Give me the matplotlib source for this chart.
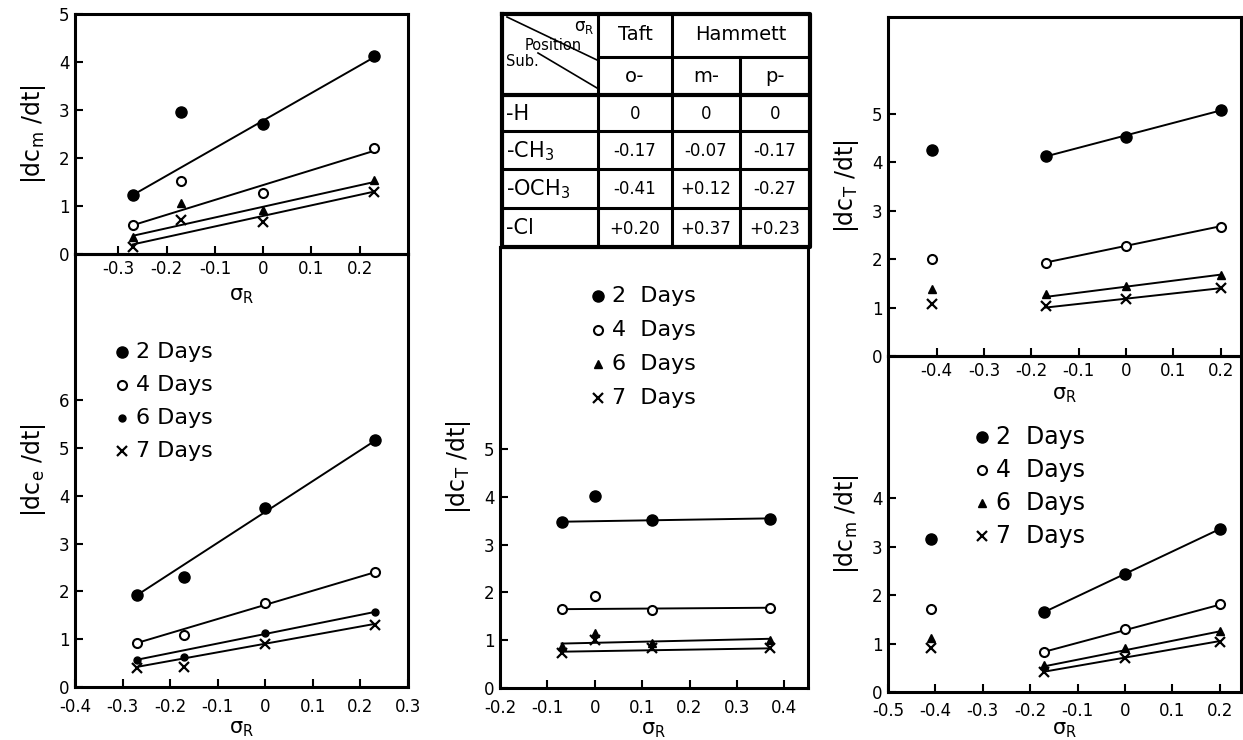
import matplotlib
matplotlib.use('Agg')
import matplotlib.pyplot as plt

plt.rcParams['font.family'] = ['DejaVu Sans']
plt.rcParams['mathtext.default'] = 'regular'

W, H = 1243, 740

# sigma_R of the substituents (H, CH3, OCH3, Cl) in each position
x_para = [-0.27, -0.17, 0.0, 0.23]
x_meta = [-0.07, 0.0, 0.12, 0.37]
x_ortho = [-0.41, -0.17, 0.0, 0.20]

days = ['2 Days', '4 Days', '6 Days', '7 Days']

# top left: |dc_m/dt|, para
pm_2 = [1.23, 2.95, 2.70, 4.12]
pm_4 = [0.61, 1.53, 1.28, 2.20]
pm_6 = [0.36, 1.07, 0.92, 1.55]
pm_7 = [0.15, 0.71, 0.67, 1.30]
pm_fit = [[1.23, 4.10], [0.60, 2.15], [0.38, 1.50], [0.20, 1.30]]

# bottom left: |dc_e/dt|, para
pe_2 = [1.92, 2.30, 3.74, 5.17]
pe_4 = [0.92, 1.09, 1.76, 2.41]
pe_6 = [0.56, 0.63, 1.13, 1.57]
pe_7 = [0.40, 0.42, 0.91, 1.30]
pe_fit = [[1.92, 5.15], [0.92, 2.40], [0.57, 1.57], [0.42, 1.32]]

# middle: |dc_T/dt|, meta
mt_2 = [3.47, 4.02, 3.51, 3.54]
mt_4 = [1.65, 1.92, 1.63, 1.67]
mt_6 = [0.88, 1.15, 0.95, 1.00]
mt_7 = [0.73, 1.00, 0.84, 0.83]
mt_fit = [[3.48, 3.55], [1.65, 1.68], [0.93, 1.03], [0.76, 0.83]]

# top right: |dc_T/dt|, ortho
ot_2 = [4.26, 4.13, 4.53, 5.08]
ot_4 = [2.00, 1.93, 2.28, 2.67]
ot_6 = [1.38, 1.27, 1.45, 1.68]
ot_7 = [1.07, 1.03, 1.17, 1.40]
ot_fit = [[4.12, 5.07], [1.93, 2.68], [1.22, 1.68], [1.00, 1.40]]

# bottom right: |dc_m/dt|, ortho
om_2 = [3.15, 1.65, 2.43, 3.36]
om_4 = [1.71, 0.82, 1.30, 1.81]
om_6 = [1.11, 0.56, 0.90, 1.26]
om_7 = [0.91, 0.41, 0.70, 1.04]
om_fit = [[1.65, 3.36], [0.83, 1.80], [0.53, 1.25], [0.42, 1.05]]

# table of sigma_R values
tab_rows = ['-H', '-CH$_3$', '-OCH$_3$', '-Cl']
tab_o = ['0', '-0.17', '-0.41', '+0.20']
tab_m = ['0', '-0.07', '+0.12', '+0.37']
tab_p = ['0', '-0.17', '-0.27', '+0.23']

styles = [
    dict(marker='o', ms=8, mfc='k', mec='k'),
    dict(marker='o', ms=6.5, mfc='white', mec='k', mew=1.5),
    dict(marker='^', ms=6, mfc='k', mec='k'),
    dict(marker='x', ms=7, mec='k', mew=1.6),
]

fig = plt.figure(figsize=(W / 100, H / 100), dpi=100)


def px_axes(l, t, r, b):
    return fig.add_axes([l / W, 1 - b / H, (r - l) / W, (b - t) / H])


def style_axes(ax, xlim, ylim, xticks, xlabels, yticks, xpad=4):
    ax.set_xlim(*xlim)
    ax.set_ylim(*ylim)
    ax.set_xticks(xticks)
    ax.set_xticklabels(xlabels)
    ax.set_yticks(yticks)
    ax.set_yticklabels([str(v) for v in yticks])
    ax.tick_params(direction='in', length=6, width=1.5, labelsize=12, pad=4)
    ax.tick_params(axis='x', pad=xpad)
    for s in ax.spines.values():
        s.set_linewidth(2.2)
    ax.patch.set_alpha(0)


def draw_series(ax, xs, series, fits, fit_x, sty=styles):
    for ys, fit, st in zip(series, fits, sty):
        ax.plot(fit_x, fit, color='k', lw=1.4, zorder=2)
        ax.plot(xs, ys, ls='none', color='k', zorder=3, **st)


def legend(px, py, dy, texts, sty, size=16):
    for i, (t, st) in enumerate(zip(texts, sty)):
        y = 1 - (py + i * dy) / H
        fig.add_artist(plt.Line2D([px / W], [y], ls='none', color='k',
                                  transform=fig.transFigure, **st))
        fig.text((px + 14) / W, y, t, fontsize=size, va='center', ha='left')


para_ticks = [-0.3, -0.2, -0.1, 0, 0.1, 0.2]
para_lab = ['-0.3', '-0.2', '-0.1', '0', '0.1', '0.2']

# top left
ax1 = px_axes(75, 14, 408, 254)
style_axes(ax1, (-0.39, 0.3), (0, 5), para_ticks, para_lab, [0, 1, 2, 3, 4, 5])
draw_series(ax1, x_para, [pm_2, pm_4, pm_6, pm_7], pm_fit, [x_para[0], x_para[-1]])
ax1.set_xlabel(r'$\sigma_R$', fontsize=15, labelpad=6)
ax1.set_ylabel('|dc$_m$ /dt|', fontsize=17, labelpad=8)

# bottom left
ax2 = px_axes(75, 254, 408, 687)
style_axes(ax2, (-0.4, 0.3), (0, 9.06), [-0.4] + para_ticks + [0.3],
           ['-0.4'] + para_lab + ['0.3'], [0, 1, 2, 3, 4, 5, 6], xpad=8)
bl_styles = styles[:2] + [dict(marker='o', ms=5, mfc='k', mec='k')] + styles[3:]
draw_series(ax2, x_para, [pe_2, pe_4, pe_6, pe_7], pe_fit, [x_para[0], x_para[-1]], bl_styles)
ax2.set_xlabel(r'$\sigma_R$', fontsize=15, labelpad=2)
ax2.set_ylabel('|dc$_e$ /dt|', fontsize=17, labelpad=8)
legend(122, 352, 33, days, bl_styles)

# middle
ax3 = px_axes(500, 247, 808, 688)
style_axes(ax3, (-0.2, 0.45), (0, 9.23), [-0.2, -0.1, 0, 0.1, 0.2, 0.3, 0.4],
           ['-0.2', '-0.1', '0', '0.1', '0.2', '0.3', '0.4'], [0, 1, 2, 3, 4, 5], xpad=8)
draw_series(ax3, x_meta, [mt_2, mt_4, mt_6, mt_7], mt_fit, [x_meta[0], x_meta[-1]])
ax3.set_xlabel(r'$\sigma_R$', fontsize=15, labelpad=2)
ax3.set_ylabel('|dc$_T$ /dt|', fontsize=17, labelpad=8)
legend(598, 296, 34, [d[0] + '  ' + d[2:] for d in days], styles)

# table above middle plot
tab = px_axes(502, 14, 810, 247)
tab.set_xlim(502, 810)
tab.set_ylim(247, 14)
tab.axis('off')
cols = [502, 598, 672, 740, 810]
rows = [14, 57, 95, 131, 169, 208, 247]
lw = 2.2
tab.plot([502, 810, 810, 502, 502], [14, 14, 247, 247, 14], color='k', lw=3, clip_on=False)
tab.plot([598, 598], [14, 247], color='k', lw=lw)
tab.plot([672, 672], [14, 247], color='k', lw=lw)
tab.plot([740, 740], [57, 247], color='k', lw=lw)
tab.plot([598, 810], [57, 57], color='k', lw=lw)
for r in rows[2:-1]:
    tab.plot([502, 810], [r, r], color='k', lw=3 if r == rows[2] else lw)
tab.plot([507, 597], [17, 60], color='k', lw=1.2)
tab.plot([538, 597], [53, 88], color='k', lw=1.2)
tab.text(594, 27, r'$\sigma_R$', fontsize=12, ha='right', va='center')
tab.text(553, 45, 'Position', fontsize=10.5, ha='center', va='center')
tab.text(506, 61, 'Sub.', fontsize=10.5, ha='left', va='center')
tab.text(635, 35, 'Taft', fontsize=14, ha='center', va='center')
tab.text(741, 35, 'Hammett', fontsize=14, ha='center', va='center')
centers = [635, 706, 775]
for c, t in zip(centers, ['o-', 'm-', 'p-']):
    tab.text(c, 77, t, fontsize=14, ha='center', va='center')
for i, name in enumerate(tab_rows):
    yc = (rows[i + 2] + rows[i + 3]) / 2 + 1
    tab.text(506, yc, name, fontsize=15, ha='left', va='center')
    for c, col in zip(centers, [tab_o, tab_m, tab_p]):
        tab.text(c, yc, col[i], fontsize=12, ha='center', va='center')

# top right
ortho_ticks = [-0.4, -0.3, -0.2, -0.1, 0, 0.1, 0.2]
ortho_lab = ['-0.4', '-0.3', '-0.2', '-0.1', '0', '0.1', '0.2']
ax4 = px_axes(888, 17, 1241, 356)
style_axes(ax4, (-0.503, 0.243), (0, 7.0), ortho_ticks, ortho_lab, [0, 1, 2, 3, 4, 5])
draw_series(ax4, x_ortho, [ot_2, ot_4, ot_6, ot_7], ot_fit, [x_ortho[1], x_ortho[-1]])
ax4.set_xlabel(r'$\sigma_R$', fontsize=15, labelpad=4)
ax4.set_ylabel('|dc$_T$ /dt|', fontsize=17, labelpad=8)

# bottom right
ax5 = px_axes(888, 356, 1241, 692)
style_axes(ax5, (-0.5, 0.245), (0, 6.93), [-0.5] + ortho_ticks, ['-0.5'] + ortho_lab,
           [0, 1, 2, 3, 4], xpad=7)
draw_series(ax5, x_ortho, [om_2, om_4, om_6, om_7], om_fit, [x_ortho[1], x_ortho[-1]])
ax5.set_xlabel(r'$\sigma_R$', fontsize=15, labelpad=0)
ax5.set_ylabel('|dc$_m$ /dt|', fontsize=17, labelpad=8)
legend(982, 437, 33, [d[0] + '  ' + d[2:] for d in days], styles, size=17)

fig.savefig('out.png', dpi=100)
